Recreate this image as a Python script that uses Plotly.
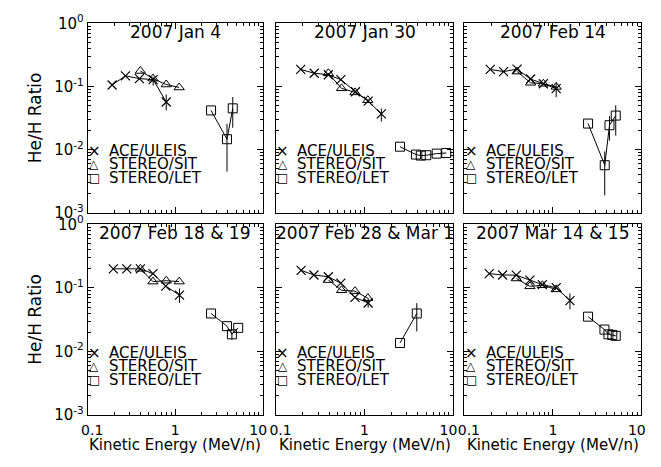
import plotly.graph_objects as go

# ---------------- data ----------------
titles = ["2007 Jan 4", "2007 Jan 30", "2007 Feb 14",
          "2007 Feb 18 & 19", "2007 Feb 28 & Mar 1", "2007 Mar 14 & 15"]

# ACE/ULEIS
uleis_e = [
    [0.19, 0.27, 0.39, 0.56, 0.79],
    [0.19, 0.27, 0.39, 0.54, 0.79, 1.10, 1.55],
    [0.196, 0.277, 0.394, 0.56, 0.78, 1.09],
    [0.196, 0.28, 0.40, 0.557, 0.78, 1.12],
    [0.192, 0.268, 0.39, 0.54, 0.78, 1.10],
    [0.191, 0.27, 0.386, 0.55, 0.76, 1.09, 1.56],
]
uleis_r = [
    [0.106, 0.148, 0.134, 0.129, 0.057],
    [0.187, 0.163, 0.154, 0.129, 0.083, 0.059, 0.037],
    [0.187, 0.173, 0.189, 0.132, 0.111, 0.093],
    [0.200, 0.200, 0.200, 0.168, 0.107, 0.077],
    [0.189, 0.160, 0.150, 0.119, 0.071, 0.058],
    [0.168, 0.160, 0.159, 0.133, 0.113, 0.101, 0.063],
]
uleis_err_up = [
    [0.0, 0.0, 0.0, 0.015, 0.018],
    [0.0, 0.0, 0.0, 0.0, 0.0, 0.004, 0.008],
    [0.0, 0.0, 0.0, 0.0, 0.0, 0.022],
    [0.0, 0.0, 0.0, 0.0, 0.0, 0.021],
    [0.0, 0.0, 0.0, 0.0, 0.0, 0.011],
    [0.0, 0.0, 0.0, 0.0, 0.0, 0.0, 0.019],
]
uleis_err_dn = [
    [0.0, 0.0, 0.0, 0.025, 0.015],
    [0.0, 0.0, 0.0, 0.0, 0.0, 0.004, 0.009],
    [0.0, 0.0, 0.0, 0.0, 0.0, 0.025],
    [0.0, 0.0, 0.0, 0.0, 0.0, 0.019],
    [0.0, 0.0, 0.0, 0.0, 0.0, 0.009],
    [0.0, 0.0, 0.0, 0.0, 0.0, 0.0, 0.017],
]

# STEREO/SIT
sit_e = [
    [0.40, 0.557, 0.79, 1.11],
    [0.39, 0.55, 0.78, 1.09],
    [0.394, 0.56, 0.78, 1.09],
    [0.40, 0.557, 0.79, 1.11],
    [0.39, 0.55, 0.78, 1.09],
    [0.386, 0.55, 0.76, 1.09],
]
sit_r = [
    [0.177, 0.134, 0.108, 0.097],
    [0.163, 0.094, 0.081, 0.061],
    [0.173, 0.115, 0.111, 0.099],
    [0.200, 0.126, 0.130, 0.126],
    [0.133, 0.092, 0.089, 0.069],
    [0.141, 0.106, 0.110, 0.095],
]

# STEREO/LET
let_e = [
    [2.57, 3.91, 4.55],
    [2.52, 3.82, 4.33, 5.0, 6.55, 8.4],
    [2.50, 3.86, 4.37, 5.14],
    [2.57, 3.91, 4.45, 5.25],
    [2.52, 3.90],
    [2.50, 3.83, 4.25, 4.70, 5.14],
]
let_r = [
    [0.042, 0.0147, 0.0453],
    [0.0112, 0.0084, 0.0081, 0.0082, 0.0087, 0.0089],
    [0.026, 0.0057, 0.0245, 0.0348],
    [0.0396, 0.025, 0.0186, 0.0235],
    [0.0136, 0.0396],
    [0.0353, 0.0221, 0.0186, 0.0182, 0.0176],
]
let_err_up = [
    [0.0, 0.011, 0.023],
    [0.0, 0.0, 0.0, 0.0, 0.0, 0.0],
    [0.0, 0.0037, 0.0095, 0.016],
    [0.0, 0.0, 0.002, 0.0],
    [0.0, 0.018],
    [0.0, 0.0, 0.0, 0.0, 0.0],
]
let_err_dn = [
    [0.0, 0.0102, 0.023],
    [0.0, 0.0, 0.0, 0.0, 0.0, 0.0],
    [0.0, 0.0038, 0.0105, 0.018],
    [0.0, 0.0, 0.0033, 0.0],
    [0.0, 0.019],
    [0.0, 0.0, 0.0, 0.0, 0.0],
]

x_tickvals = [0.1, 1, 10]
x_ticktext = ["\u00a0\u00a00.1", "1", "10\u00a0\u00a0"]
y_tickvals = [0.001, 0.01, 0.1, 1]
y_ticktext = ["10<sup>-3</sup>", "10<sup>-2</sup>", "10<sup>-1</sup>", "10<sup>0</sup>"]
x_minor = [m * 10.0 ** d for d in (-1, 0) for m in range(2, 10)]
y_minor = [m * 10.0 ** d for d in (-3, -2, -1) for m in range(2, 10)]

legend_labels = ["ACE/ULEIS", "STEREO/SIT", "STEREO/LET"]
legend_symbols = ["\u00d7", "\u25b3", "\u25a1"]
legend_symbol_sizes = [15, 12, 12]

# ---------------- layout geometry ----------------
W, H = 661, 467
col_px = [(75, 258), (272, 457), (469, 654)]
row_px = [(13, 211), (223, 422)]
FONT = "DejaVu Sans"

fig = go.Figure()

for i in range(6):
    r, c = divmod(i, 3)
    n = "" if i == 0 else str(i + 1)
    xa, ya = "x" + n, "y" + n
    common = dict(xaxis=xa, yaxis=ya, showlegend=False, hoverinfo="x+y")
    fig.add_trace(go.Scatter(
        x=uleis_e[i], y=uleis_r[i], mode="lines+markers", name="ACE/ULEIS",
        line=dict(color="black", width=1),
        marker=dict(symbol="x-thin-open", size=9, color="black", line=dict(width=1.2, color="black")),
        error_y=dict(type="data", symmetric=False, array=uleis_err_up[i], arrayminus=uleis_err_dn[i],
                     color="black", thickness=1, width=0),
        **common))
    fig.add_trace(go.Scatter(
        x=sit_e[i], y=sit_r[i], mode="lines+markers", name="STEREO/SIT",
        line=dict(color="black", width=1),
        marker=dict(symbol="triangle-up-open", size=9, color="black", line=dict(width=1, color="black")),
        **common))
    fig.add_trace(go.Scatter(
        x=let_e[i], y=let_r[i], mode="lines+markers", name="STEREO/LET",
        line=dict(color="black", width=1),
        marker=dict(symbol="square-open", size=9, color="black", line=dict(width=1, color="black")),
        error_y=dict(type="data", symmetric=False, array=let_err_up[i], arrayminus=let_err_dn[i],
                     color="black", thickness=1, width=0),
        **common))

    x0, x1 = col_px[c]
    y0, y1 = row_px[r]
    xdom = [x0 / W, x1 / W]
    ydom = [(H - y1) / H, (H - y0) / H]
    fig.layout["xaxis" + n] = dict(
        domain=xdom, anchor=ya, type="log", range=[-1, 1],
        tickmode="array", tickvals=x_tickvals, ticktext=x_ticktext,
        showticklabels=(r == 1), ticks="inside", ticklen=6, tickcolor="black", tickwidth=1,
        ticklabelstandoff=2,
        minor=dict(tickmode="array", tickvals=x_minor, ticks="inside", ticklen=3,
                   tickcolor="black", tickwidth=1, showgrid=False),
        showline=True, linecolor="black", linewidth=1, mirror="allticks",
        showgrid=False, zeroline=False,
        tickfont=dict(family=FONT, size=14, color="black"),
    )
    fig.layout["yaxis" + n] = dict(
        domain=ydom, anchor=xa, type="log", range=[-3, 0],
        tickmode="array", tickvals=y_tickvals, ticktext=y_ticktext,
        showticklabels=(c == 0), ticks="inside", ticklen=6, tickcolor="black", tickwidth=1,
        minor=dict(tickmode="array", tickvals=y_minor, ticks="inside", ticklen=3,
                   tickcolor="black", tickwidth=1, showgrid=False),
        showline=True, linecolor="black", linewidth=1, mirror="allticks",
        showgrid=False, zeroline=False,
        tickfont=dict(family=FONT, size=15, color="black"),
    )

annotations = []
for i in range(6):
    r, c = divmod(i, 3)
    x0, x1 = col_px[c]
    y0, y1 = row_px[r]
    # panel title
    annotations.append(dict(
        text=titles[i], xref="paper", yref="paper",
        x=(x0 + x1) / 2 / W, y=(H - (y0 + 9)) / H,
        xanchor="center", yanchor="middle", showarrow=False,
        font=dict(family=FONT, size=17, color="black")))
    # legend block
    for k in range(3):
        yy = y1 - 65 + 14 * k
        annotations.append(dict(
            text=legend_symbols[k], xref="paper", yref="paper",
            x=(x0 + 7) / W, y=(H - yy) / H, xanchor="center", yanchor="middle",
            showarrow=False, font=dict(family=FONT, size=legend_symbol_sizes[k], color="black")))
        annotations.append(dict(
            text=legend_labels[k], xref="paper", yref="paper",
            x=(x0 + 20) / W, y=(H - yy) / H, xanchor="left", yanchor="middle",
            showarrow=False, font=dict(family=FONT, size=15, color="black")))
    if r == 1:
        annotations.append(dict(
            text="Kinetic Energy (MeV/n)", xref="paper", yref="paper",
            x=(x0 + x1) / 2 / W, y=(H - 453) / H, xanchor="center", yanchor="middle",
            showarrow=False, font=dict(family=FONT, size=15, color="black")))
    if c == 0:
        annotations.append(dict(
            text="He/H Ratio", xref="paper", yref="paper", textangle=-90,
            x=20 / W, y=(H - (y0 + y1) / 2) / H, xanchor="center", yanchor="middle",
            showarrow=False, font=dict(family=FONT, size=17, color="black")))

fig.update_layout(
    width=W, height=H, margin=dict(l=0, r=0, t=0, b=0),
    paper_bgcolor="white", plot_bgcolor="white",
    annotations=annotations, showlegend=False,
    font=dict(family=FONT, color="black"),
)

fig.write_html("out.html")
